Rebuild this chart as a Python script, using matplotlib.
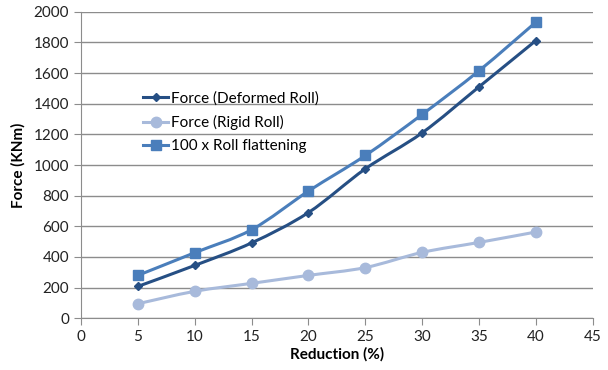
import numpy as np
import matplotlib
matplotlib.use("Agg")
import matplotlib.pyplot as plt
from matplotlib.path import Path
from matplotlib.patches import PathPatch

reduction = [5, 10, 15, 20, 25, 30, 35, 40]
force_deformed = [208, 345, 492, 690, 975, 1210, 1510, 1812]
force_rigid = [95, 176, 228, 280, 331, 430, 495, 563]
flattening_x100 = [280, 428, 578, 830, 1062, 1330, 1615, 1932]

plt.rcParams['font.family'] = ['Lato', 'DejaVu Sans']


def smooth_path(x, y, t=1/6):
    # cardinal spline through the points as cubic beziers
    pts = np.column_stack([x, y]).astype(float)
    verts = [pts[0]]
    codes = [Path.MOVETO]
    n = len(pts)
    for i in range(n - 1):
        p0 = pts[i - 1] if i > 0 else pts[i]
        p1 = pts[i]
        p2 = pts[i + 1]
        p3 = pts[i + 2] if i + 2 < n else pts[i + 1]
        verts += [p1 + (p2 - p0) * t, p2 - (p3 - p1) * t, p2]
        codes += [Path.CURVE4] * 3
    return Path(verts, codes)


fig = plt.figure(figsize=(6.08, 3.70), dpi=100)
ax = fig.add_axes([0.1332, 0.1397, 0.8418, 0.8287])

series = [
    (force_deformed, '#264F84', 'D', 4.5, 'Force (Deformed Roll)'),
    (force_rigid, '#A8BADB', 'o', 7.5, 'Force (Rigid Roll)'),
    (flattening_x100, '#4A7EBB', 's', 7.5, '100 x Roll flattening'),
]
handles = []
for vals, col, mk, ms, lab in series:
    ax.add_patch(PathPatch(smooth_path(reduction, vals), facecolor='none',
                           edgecolor=col, lw=2.2, zorder=3))
    ax.plot(reduction, vals, linestyle='None', color=col, marker=mk,
            markersize=ms, zorder=4)
    h, = ax.plot([], [], color=col, lw=2.2, marker=mk, markersize=ms, label=lab)
    handles.append(h)

ax.set_xlim(0, 45)
ax.set_ylim(0, 2000)
ax.set_xticks(range(0, 46, 5))
ax.set_yticks(range(0, 2001, 200))
ax.yaxis.grid(True, color='#8C8C8C', lw=1)
ax.set_axisbelow(True)
for s in ['top', 'right']:
    ax.spines[s].set_visible(False)
for s in ['left', 'bottom']:
    ax.spines[s].set_color('#8C8C8C')
ax.tick_params(axis='both', colors='#8C8C8C', labelcolor='#222222',
               labelsize=11, length=5, direction='out')
ax.set_xlabel('Reduction (%)', fontsize=11, fontweight='bold', labelpad=2)
ax.set_ylabel('Force (KNm)', fontsize=11, fontweight='bold', labelpad=6)

ax.legend(handles=handles, loc='upper left', bbox_to_anchor=(0.11, 0.76),
          frameon=False, fontsize=11, handlelength=1.6, handletextpad=0.2,
          labelspacing=0.6, borderaxespad=0)

fig.savefig('out.png', dpi=100)
